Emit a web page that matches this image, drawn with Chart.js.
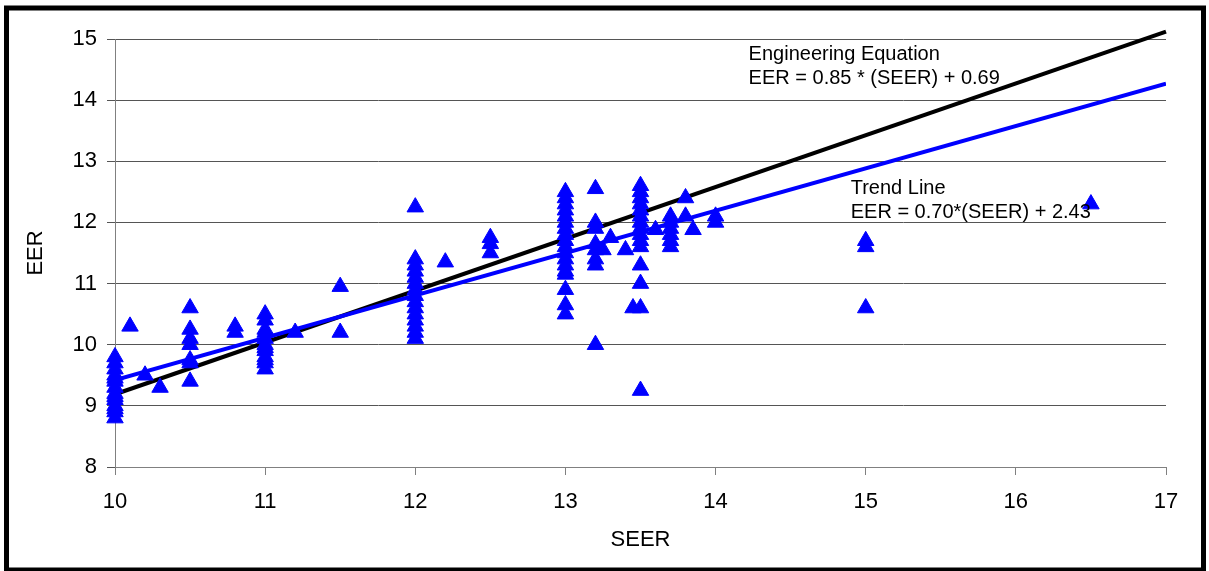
<!DOCTYPE html>
<html>
<head>
<meta charset="utf-8">
<title>EER vs SEER</title>
<script src="https://cdn.jsdelivr.net/npm/chart.js@4/dist/chart.umd.min.js"></script>
<style>
  html, body { margin: 0; padding: 0; background: #fff; }
  #wrap { width: 1209px; height: 571px; position: relative; }
</style>
</head>
<body>
<div id="wrap"><canvas id="eerChart" width="1209" height="571"></canvas></div>
<script>
// measured units: SEER on x, EER on y
var seerValues = [
  10, 10, 10, 10, 10, 10, 10, 10, 10, 10, 10, 10, 10, 10,
  10.1, 10.2, 10.3,
  10.5, 10.5, 10.5, 10.5, 10.5, 10.5, 10.5,
  10.8, 10.8,
  11, 11, 11, 11, 11, 11, 11, 11, 11, 11, 11, 11,
  11.2, 11.5, 11.5,
  12, 12, 12, 12, 12, 12, 12, 12, 12, 12, 12, 12, 12, 12, 12,
  12.2, 12.5, 12.5, 12.5,
  13, 13, 13, 13, 13, 13, 13, 13, 13, 13, 13, 13, 13, 13, 13, 13, 13, 13,
  13.2, 13.2, 13.2, 13.2, 13.2, 13.2, 13.2, 13.2,
  13.25, 13.3, 13.4, 13.45,
  13.5, 13.5, 13.5, 13.5, 13.5, 13.5, 13.5, 13.5, 13.5, 13.5, 13.5, 13.5, 13.5, 13.5, 13.5,
  13.6, 13.7, 13.7, 13.7, 13.7, 13.7, 13.7,
  13.8, 13.8, 13.85, 14, 14,
  15, 15, 15, 16.5
];
var eerValues = [
  9.8, 9.7, 9.6, 9.5, 9.45, 9.4, 9.3, 9.2, 9.15, 9.1, 9.0, 8.95, 8.9, 8.8,
  10.3, 9.5, 9.3,
  10.6, 10.25, 10.1, 10.0, 9.75, 9.7, 9.4,
  10.3, 10.2,
  10.5, 10.4, 10.25, 10.2, 10.1, 10.0, 9.95, 9.9, 9.8, 9.75, 9.7, 9.6,
  10.2, 10.95, 10.2,
  12.25, 11.4, 11.3, 11.2, 11.1, 11.0, 10.9, 10.8, 10.7, 10.6, 10.5, 10.4, 10.3, 10.2, 10.1,
  11.35, 11.75, 11.65, 11.5,
  12.5, 12.4, 12.3, 12.2, 12.1, 12.0, 11.9, 11.8, 11.7, 11.6, 11.5, 11.4, 11.3, 11.2, 11.15, 10.9, 10.65, 10.5,
  12.55, 12.0, 11.9, 11.65, 11.55, 11.4, 11.3, 10.0,
  11.55, 11.75, 11.55, 10.6,
  12.6, 12.5, 12.4, 12.3, 12.2, 12.1, 12.0, 11.9, 11.8, 11.7, 11.6, 11.3, 11.0, 10.6, 9.25,
  11.88, 12.1, 12.0, 11.9, 11.8, 11.7, 11.6,
  12.4, 12.1, 11.88, 12.1, 12.0,
  11.7, 11.6, 10.6, 12.3
];

// line end points (SEER 10 and 17)
var lineSeer = [10, 17];
var engineeringEer = [9.19, 15.12];
var trendEer = [9.42, 14.27];

var xTicks = [10, 11, 12, 13, 14, 15, 16, 17];
var yTicks = [8, 9, 10, 11, 12, 13, 14, 15];

var noteLines = [
  { seer: 14.22, eer: 14.74, text: 'Engineering Equation' },
  { seer: 14.22, eer: 14.35, text: 'EER = 0.85 * (SEER) + 0.69' },
  { seer: 14.9, eer: 12.56, text: 'Trend Line' },
  { seer: 14.9, eer: 12.17, text: 'EER = 0.70*(SEER) + 2.43' }
];

var fontFam = "Arial, 'Liberation Sans', sans-serif";

var points = seerValues.map(function (s, i) { return { x: s, y: eerValues[i] }; });
function toLine(ys) {
  return lineSeer.map(function (s, i) { return { x: s, y: ys[i] }; });
}

var framePlugin = {
  id: 'frame',
  afterDraw: function (chart) {
    var ctx = chart.ctx;
    var xs = chart.scales.x, ys = chart.scales.y;
    ctx.save();
    ctx.fillStyle = '#000';
    ctx.font = '20px ' + fontFam;
    ctx.textBaseline = 'middle';
    ctx.textAlign = 'left';
    noteLines.forEach(function (n) {
      ctx.fillText(n.text, xs.getPixelForValue(n.seer), ys.getPixelForValue(n.eer));
    });
    ctx.strokeStyle = '#000';
    ctx.lineWidth = 5;
    ctx.strokeRect(6.5, 8, 1197, 562);
    ctx.restore();
  }
};

var ctx = document.getElementById('eerChart');
var myChart = new Chart(ctx, {
  type: 'scatter',
  data: {
    datasets: [
      {
        label: 'Data',
        data: points,
        pointStyle: 'triangle',
        pointRadius: 9.5,
        pointBackgroundColor: '#0000ff',
        pointBorderColor: '#0000ff',
        pointBorderWidth: 1,
        showLine: false,
        clip: false,
        order: 0
      },
      {
        label: 'Trend Line',
        type: 'line',
        data: toLine(trendEer),
        borderColor: '#0000ff',
        borderWidth: 4,
        pointRadius: 0,
        fill: false,
        order: 1
      },
      {
        label: 'Engineering Equation',
        type: 'line',
        data: toLine(engineeringEer),
        borderColor: '#000000',
        borderWidth: 4,
        pointRadius: 0,
        fill: false,
        clip: false,
        order: 2
      }
    ]
  },
  options: {
    responsive: false,
    animation: false,
    layout: { padding: { left: 0, right: 43, top: 39, bottom: 0 } },
    plugins: {
      legend: { display: false },
      tooltip: { enabled: false }
    },
    scales: {
      x: {
        type: 'linear',
        min: 10,
        max: 17,
        afterBuildTicks: function (scale) {
          scale.ticks = xTicks.map(function (v) { return { value: v }; });
        },
        afterFit: function (scale) { scale.height = 104; },
        grid: { drawOnChartArea: false, tickLength: 8, color: '#808080' },
        border: { color: '#808080' },
        ticks: { color: '#000', padding: 14, font: { family: fontFam, size: 22 } },
        title: {
          display: true,
          text: 'SEER',
          color: '#000',
          font: { family: fontFam, size: 22 },
          padding: { top: 0, bottom: 18 }
        }
      },
      y: {
        type: 'linear',
        min: 8,
        max: 15,
        afterBuildTicks: function (scale) {
          scale.ticks = yTicks.map(function (v) { return { value: v }; });
        },
        afterFit: function (scale) { scale.width = 115; },
        grid: { color: '#555555', tickLength: 8 },
        border: { color: '#808080' },
        ticks: { color: '#000', padding: 10, font: { family: fontFam, size: 22 } },
        title: {
          display: true,
          text: 'EER',
          color: '#000',
          font: { family: fontFam, size: 22 },
          padding: { top: 23, bottom: 0 }
        }
      }
    }
  },
  plugins: [framePlugin]
});
</script>
</body>
</html>
